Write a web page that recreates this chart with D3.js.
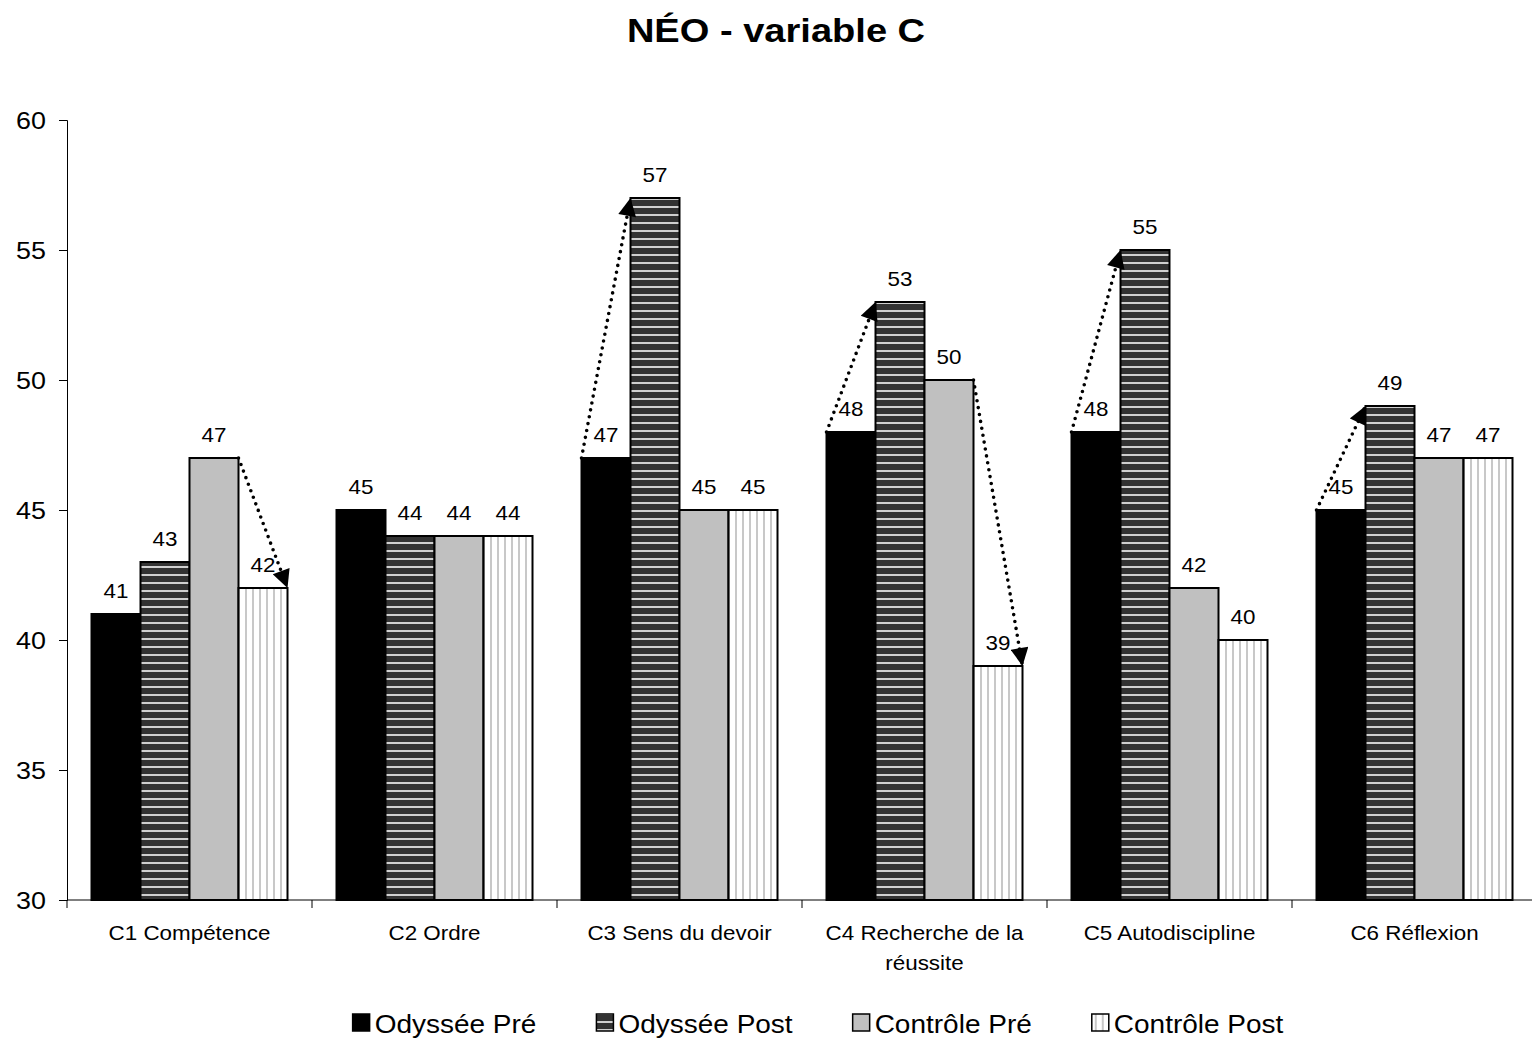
<!DOCTYPE html>
<html>
<head>
<meta charset="utf-8">
<script src="https://cdn.jsdelivr.net/npm/d3@7"></script>
<style>
  body { margin: 0; background: #fff; }
  text { font-family: "Liberation Sans", Arial, sans-serif; fill: #000; }
</style>
</head>
<body>
<svg id="chart" width="1532" height="1041"></svg>
<script>
const title = 'NÉO - variable C';
const categories = ['C1 Compétence', 'C2 Ordre', 'C3 Sens du devoir', 'C4 Recherche de la réussite', 'C5 Autodiscipline', 'C6 Réflexion'];
const seriesNames = ['Odyssée Pré', 'Odyssée Post', 'Contrôle Pré', 'Contrôle Post'];
const odysseePre = [41, 45, 47, 48, 48, 45];
const odysseePost = [43, 44, 57, 53, 55, 49];
const controlePre = [47, 44, 45, 50, 42, 47];
const controlePost = [42, 44, 45, 39, 40, 47];
const yTicks = [30, 35, 40, 45, 50, 55, 60];
// dotted arrows: category, from series index, to series index, bar edge used
const arrows = [
  { cat: 0, from: 2, to: 3, edge: 'right' },
  { cat: 2, from: 0, to: 1, edge: 'left' },
  { cat: 3, from: 0, to: 1, edge: 'left' },
  { cat: 3, from: 2, to: 3, edge: 'right' },
  { cat: 4, from: 0, to: 1, edge: 'left' },
  { cat: 5, from: 0, to: 1, edge: 'left' },
];

const values = [odysseePre, odysseePost, controlePre, controlePost];

// the original export is slightly stretched horizontally
const SX = 1.12;

const svg = d3.select('#chart');
const margin = { top: 120, left: 67, bottom: 141 };
const plotRight = 1537;
const height = 1041;

const x = d3.scaleBand().domain(d3.range(categories.length)).range([margin.left, plotRight]).padding(0);
const xs = d3.scaleBand().domain(d3.range(seriesNames.length)).range([0, x.bandwidth()]).paddingInner(0).paddingOuter(0.5);
const y = d3.scaleLinear().domain([30, 60]).range([height - margin.bottom, margin.top]);

function placeText(sel, tx, ty) {
  return sel.attr('transform', (d, i) => `translate(${tx(d, i)},${ty(d, i)}) scale(${SX},1)`);
}

// patterns
const defs = svg.append('defs');
const hp = defs.append('pattern').attr('id', 'hstripe').attr('patternUnits', 'userSpaceOnUse')
  .attr('width', 8).attr('height', 8);
hp.append('rect').attr('width', 8).attr('height', 8).attr('fill', '#333');
hp.append('rect').attr('y', 6).attr('width', 8).attr('height', 2).attr('fill', '#d0d0d0');
const vp = defs.append('pattern').attr('id', 'vstripe').attr('patternUnits', 'userSpaceOnUse')
  .attr('width', 7).attr('height', 7);
vp.append('rect').attr('width', 7).attr('height', 7).attr('fill', '#fff');
vp.append('rect').attr('x', 3).attr('width', 2).attr('height', 7).attr('fill', '#c8c8c8');
defs.append('marker').attr('id', 'arrowhead').attr('viewBox', '0 0 10 10')
  .attr('refX', 10).attr('refY', 5).attr('markerWidth', 5.5).attr('markerHeight', 5)
  .attr('markerUnits', 'strokeWidth').attr('orient', 'auto')
  .append('path').attr('d', 'M0,0 L10,5 L0,10 z').attr('fill', '#000');

const fills = ['#000', 'url(#hstripe)', '#c0c0c0', 'url(#vstripe)'];

placeText(svg.append('text').datum(title), () => 776, () => 42)
  .attr('text-anchor', 'middle')
  .style('font-size', '34px').style('font-weight', 'bold').text(d => d);

// y axis
const yAxis = svg.append('g').attr('transform', `translate(${margin.left},0)`)
  .call(d3.axisLeft(y).tickValues(yTicks).tickSize(8).tickPadding(6));
yAxis.selectAll('text').attr('font-family', null).style('font-size', '24px')
  .attr('x', null).attr('dy', null)
  .attr('transform', `translate(-21,8.5) scale(${SX},1)`);
yAxis.selectAll('line, path').attr('stroke', '#000');

// x axis with boundary ticks
const xAxisG = svg.append('g').attr('transform', `translate(0,${y(30)})`);
xAxisG.append('line').attr('x1', margin.left).attr('x2', plotRight).attr('stroke', '#000');
xAxisG.selectAll('.bt').data(d3.range(categories.length + 1)).join('line')
  .attr('x1', d => margin.left + d * x.step()).attr('x2', d => margin.left + d * x.step())
  .attr('y1', 0).attr('y2', 8).attr('stroke', '#000');

// bars
const groups = svg.append('g').selectAll('g').data(categories).join('g')
  .attr('transform', (d, i) => `translate(${x(i)},0)`);

groups.each(function (c, ci) {
  const g = d3.select(this);
  seriesNames.forEach((s, si) => {
    const v = values[si][ci];
    g.append('rect')
      .attr('x', xs(si)).attr('width', xs.bandwidth())
      .attr('y', y(v)).attr('height', y(30) - y(v))
      .attr('fill', fills[si]).attr('stroke', '#000').attr('stroke-width', 2);
    placeText(g.append('text').datum(v), () => xs(si) + xs.bandwidth() / 2, () => y(v) - 16)
      .attr('text-anchor', 'middle').style('font-size', '20px').text(v);
  });
});

// category labels with wrapping
const catLabels = placeText(
  svg.append('g').selectAll('text').data(categories).join('text'),
  (d, i) => x(i) + x.bandwidth() / 2, () => 940)
  .attr('text-anchor', 'middle').style('font-size', '20px');
catLabels.each(function (d) {
  const t = d3.select(this);
  const words = d.split(' ');
  let line = [];
  let tspan = t.append('tspan').attr('x', 0).attr('dy', 0);
  words.forEach(w => {
    line.push(w);
    tspan.text(line.join(' '));
    if (tspan.node().getComputedTextLength() * SX > 215 && line.length > 1) {
      line.pop();
      tspan.text(line.join(' '));
      line = [w];
      tspan = t.append('tspan').attr('x', 0).attr('dy', 30).text(w);
    }
  });
});

// arrows
svg.append('g').selectAll('line').data(arrows).join('line')
  .attr('x1', d => x(d.cat) + xs(d.from) + (d.edge === 'right' ? xs.bandwidth() : 0))
  .attr('y1', d => y(values[d.from][d.cat]))
  .attr('x2', d => x(d.cat) + xs(d.to) + (d.edge === 'right' ? xs.bandwidth() : 0))
  .attr('y2', d => y(values[d.to][d.cat]))
  .attr('stroke', '#000').attr('stroke-width', 3.6)
  .attr('stroke-dasharray', '0 7').attr('stroke-linecap', 'round')
  .attr('marker-end', 'url(#arrowhead)');

// legend
const legend = svg.append('g').attr('transform', 'translate(0,1023)');
const items = legend.selectAll('g').data(seriesNames).join('g');
items.append('rect').attr('x', 0).attr('y', -9).attr('width', 17).attr('height', 17)
  .attr('fill', (d, i) => fills[i]).attr('stroke', '#000').attr('stroke-width', 1.5);
placeText(items.append('text'), () => 22, () => 10).style('font-size', '25px').text(d => d);
const widths = [];
items.each(function () {
  const t = d3.select(this).select('text').node();
  widths.push(22 + t.getComputedTextLength() * SX);
});
const gap = 60;
const total = d3.sum(widths) + gap * (widths.length - 1);
let cursor = 818 - total / 2;
items.attr('transform', (d, i) => {
  const tx = cursor;
  cursor += widths[i] + gap;
  return `translate(${tx},0)`;
});
</script>
</body>
</html>
